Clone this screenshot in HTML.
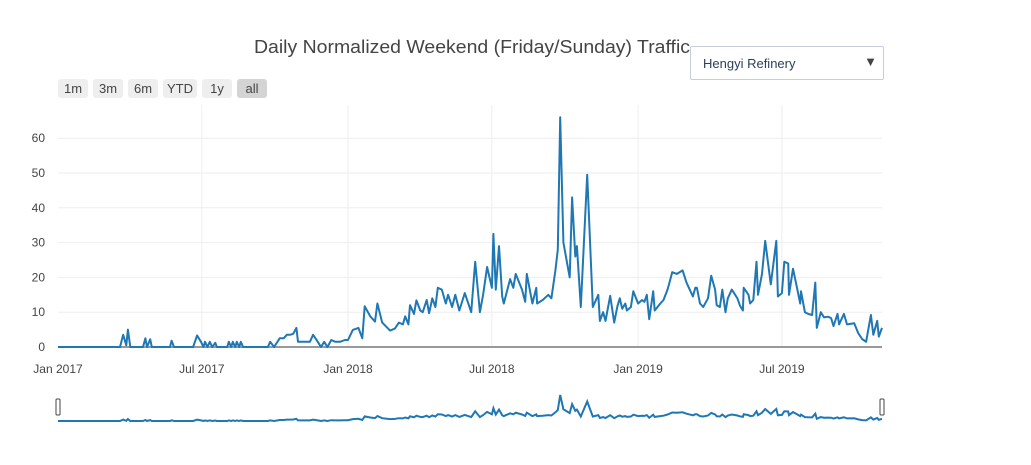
<!DOCTYPE html>
<html><head><meta charset="utf-8"><style>
body{margin:0;background:#fff;font-family:"Liberation Sans",sans-serif;}
#wrap{position:relative;width:1031px;height:465px;overflow:hidden}
.btn{position:absolute;top:79px;height:19px;background:#eeeeee;border-radius:3px;font-size:13px;color:#444;text-align:center;line-height:19px}
#dd{position:absolute;left:690px;top:46px;width:192px;height:32px;border:1px solid #c9ccd9;border-radius:2px;background:#fff;font-size:13px;color:#2a3f5f;}
</style></head><body>
<div id="wrap">
<svg id="svg" width="1031" height="465" style="position:absolute;left:0;top:0">
<text x="254" y="53" font-size="18" textLength="436" lengthAdjust="spacingAndGlyphs" fill="#444" font-family="Liberation Sans, sans-serif">Daily Normalized Weekend (Friday/Sunday) Traffic</text>
<g id="grid"></g><g id="plot"></g><g id="slider"></g>
</svg>
<div class="btn" style="left:58px;width:30px">1m</div>
<div class="btn" style="left:93px;width:30px">3m</div>
<div class="btn" style="left:128px;width:30px">6m</div>
<div class="btn" style="left:163px;width:34px">YTD</div>
<div class="btn" style="left:202px;width:30px">1y</div>
<div class="btn" style="left:237px;width:30px;background:#d4d4d4">all</div>
<div id="dd"><span style="position:absolute;left:12px;top:9px">Hengyi Refinery</span><span style="position:absolute;right:6px;top:7px;font-size:13px;color:#444">▼</span></div>
</div>
<script>
const dayOffsets=[0,78,82,86,88,91,107,110,112,116,118,141,143,146,170,175,180,183,185,188,191,194,198,200,213,215,218,220,223,225,228,230,233,264,267,272,279,284,288,292,296,300,302,317,321,327,331,335,339,344,349,355,361,365,371,378,383,386,393,399,402,408,418,424,429,434,437,441,443,448,451,456,459,464,467,471,475,478,483,488,491,496,500,505,512,520,525,531,535,540,544,546,548,551,555,559,561,569,573,576,584,588,590,597,602,603,610,617,621,626,629,632,636,644,647,651,653,658,666,673,680,682,686,689,695,700,704,707,710,714,716,721,724,730,735,738,741,744,749,751,758,762,767,769,773,779,786,791,796,799,802,804,808,812,818,822,827,829,833,836,840,843,848,855,858,862,863,869,871,875,879,881,886,890,897,904,906,911,914,919,920,925,930,934,935,940,944,949,953,955,960,964,969,973,976,981,983,989,993,1002,1007,1012,1017,1023,1026,1031,1033,1037];
const trafficValues=[0,0,3.5,0.5,5,0,0,2.5,0,2.2,0,0,1.8,0,0,3.3,1.5,0,1.5,0,1.5,0,1.2,0,0,1.5,0,1.5,0,1.5,0,1.5,0,0,1.5,0,2.5,2.5,3.5,3.5,3.8,5.5,1.5,1.5,3.5,1.5,0,1.5,0,2,1.5,1.5,2,2,4.9,5.5,2.5,11.7,8.8,7.3,12.5,7,4.7,5.3,7,6.5,8.8,6.5,12,9.5,13.4,10.5,10,13.5,9.7,14,11.5,17,16.5,12.5,15,11.5,15,10.5,15.5,10,24.5,10,15,23,19,17,32.5,16.5,29,14.5,12.5,19.5,17,21,16.5,13,21,12.5,17,12.5,13.5,15,14,22,28,66,30,20,43,26,29,11.5,49.5,11.5,15,7.5,10,7.5,14.7,7,11.7,14,11,12.5,10.5,11.5,16,12.5,13.5,13,15,8,16,10.5,12.5,13.5,16.5,18,21.5,21,22,18.5,16,14.5,17,17,12.5,11.5,14,20.5,16.5,12,11.5,16.5,10,14,16.5,14,12,10.5,17,15,12.5,13.5,24.5,15,21,30.5,18,30.5,14.5,15.5,24.5,24,15,22.5,17,12.5,16,10,9.5,9.2,18.5,5.5,10,8.5,8.7,8.3,6,9.5,6.5,9.5,6.5,6.8,4,2.3,1.5,9.2,3.5,7.5,3,5.5];
const xTickDays=[0,181,365,546,730,911];
const xTickLabels=["Jan 2017","Jul 2017","Jan 2018","Jul 2018","Jan 2019","Jul 2019"];
const yTicks=[0,10,20,30,40,50,60];
const NS="http://www.w3.org/2000/svg";
const X0=58,X1=882,DMAX=1037,Y0=347,YPX=3.48;
const xs=d=>X0+(X1-X0)*d/DMAX, ys=v=>Y0-v*YPX;
const sys=v=>421-v*(26/66);
function mk(tag,attrs,parent){const e=document.createElementNS(NS,tag);for(const k in attrs)e.setAttribute(k,attrs[k]);parent.appendChild(e);return e;}
const grid=document.getElementById('grid'),plot=document.getElementById('plot'),sl=document.getElementById('slider');
yTicks.forEach(t=>{
  if(t>0){const l=mk('line',{x1:X0,x2:X1,y1:ys(t),y2:ys(t),stroke:'#eeeeee','stroke-width':1},grid);
  
  }
  const tx=mk('text',{x:45,y:ys(t)+4,'text-anchor':'end','font-size':12,fill:'#444'},grid);tx.textContent=t;
  
  
});
xTickDays.forEach((d,i)=>{
  if(d>0){const l=mk('line',{x1:xs(d),x2:xs(d),y1:105,y2:Y0,stroke:'#eeeeee','stroke-width':1},grid);
  
  }
  const tx=mk('text',{x:xs(d),y:373,'text-anchor':'middle','font-size':12,fill:'#444'},grid);tx.textContent=xTickLabels[i];
  
  
});
const zl=mk('line',{x1:X0,x2:X1,y1:Y0,y2:Y0,stroke:'#999','stroke-width':2},grid);


const pts=dayOffsets.map((d,i)=>xs(d).toFixed(1)+','+ys(trafficValues[i]).toFixed(1)).join(' ');
const pl=mk('polyline',{points:pts,fill:'none',stroke:'#1f77b4','stroke-width':2,'stroke-linejoin':'round'},plot);


const spts=dayOffsets.map((d,i)=>xs(d).toFixed(1)+','+sys(trafficValues[i]).toFixed(1)).join(' ');
const sp=mk('polyline',{points:spts,fill:'none',stroke:'#1f77b4','stroke-width':2},sl);


[X0-2,X1-2].forEach((hx,i)=>{
  const h=mk('rect',{x:hx,y:399,width:4,height:16,rx:1,fill:'#fff',stroke:'#444','stroke-width':1},sl);
  
  
});
</script>
</body></html>
